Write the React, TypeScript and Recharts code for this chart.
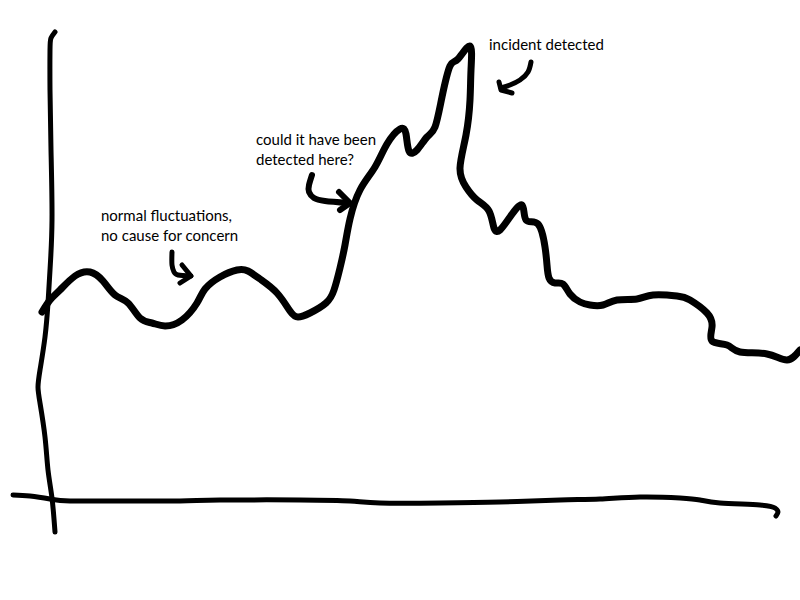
import { LineChart, Line, XAxis, YAxis, ReferenceDot } from 'recharts'

// hand-drawn sketch: x = time, y = level (0 at the bottom of the page, 600 at the top)
const signalTime = [42, 50, 60, 75, 90, 103, 115, 128, 140, 152, 165, 182, 197, 205, 220, 237, 248, 260, 277, 290, 298, 310, 326, 334, 340, 345, 350, 360, 375, 387, 400, 406, 409, 417, 427, 435, 442, 450, 458, 470, 471, 470, 466, 460, 466, 477, 489, 494, 500, 510, 522, 526, 538, 545, 547, 549, 555, 563, 570, 580, 590, 603, 617, 637, 653, 677, 690, 707, 712, 712, 727, 740, 767, 787, 800]
const signalLevel = [288, 300, 310, 324, 328, 319, 305, 297, 282, 277, 274, 280, 297, 311, 323, 330, 329, 321, 307, 289, 283, 287, 297, 310, 332, 355, 381, 410, 433, 456, 471, 466, 449, 450, 463, 473, 503, 534, 541, 554, 530, 500, 465, 432, 413, 400, 389, 372, 370, 383, 395, 380, 376, 353, 335, 322, 317, 316, 306, 298, 295, 295, 300, 301, 305, 304, 300, 287, 273, 259, 255, 248, 246, 240, 250]

const yAxisTime = [55, 51, 50, 50, 51, 52, 50, 48, 45, 40, 38, 40, 45, 48, 52, 55]
const yAxisLevel = [568, 562, 550, 510, 450, 380, 330, 297, 263, 230, 213, 197, 163, 130, 102, 68]

const xAxisTime = [13, 30, 50, 70, 120, 180, 220, 300, 350, 380, 440, 500, 560, 600, 640, 680, 700, 720, 760, 775, 778, 776]
const xAxisLevel = [105, 104, 101, 99, 99, 99, 100, 100, 99, 97, 97, 98, 100, 101, 103, 102, 100, 97, 95, 92, 88, 84]

// annotation arrows
const calmArrowTime = [172, 172, 174, 178, 191]
const calmArrowLevel = [348, 335, 328, 325, 324]
const calmHeadTime = [182, 191, 180]
const calmHeadLevel = [335, 324, 317]

const earlyArrowTime = [312, 309, 309, 314, 325, 348]
const earlyArrowLevel = [425, 415, 408, 402, 399, 397]
const earlyHeadTime = [339, 350, 340]
const earlyHeadLevel = [408, 397, 390]

const incidentArrowTime = [531, 528, 520, 510, 501]
const incidentArrowLevel = [538, 528, 520, 515, 512]
const incidentHeadTime = [499, 501, 512]
const incidentHeadLevel = [518, 510, 507]

const noteTime = [102, 257, 490]
const noteLevel = [378, 454, 549]
const noteText = [
  ['normal fluctuations,', 'no cause for concern'],
  ['could it have been', 'detected here?'],
  ['incident detected'],
]

const toPoints = (t: number[], v: number[]) => t.map((time, i) => ({ time, level: v[i] }))

const strokes = [
  { key: 'signal', data: toPoints(signalTime, signalLevel), width: 7, curve: 'natural' },
  { key: 'yaxis', data: toPoints(yAxisTime, yAxisLevel), width: 5, curve: 'natural' },
  { key: 'xaxis', data: toPoints(xAxisTime, xAxisLevel), width: 5, curve: 'natural' },
  { key: 'calm', data: toPoints(calmArrowTime, calmArrowLevel), width: 5, curve: 'natural' },
  { key: 'calmHead', data: toPoints(calmHeadTime, calmHeadLevel), width: 5, curve: 'linear' },
  { key: 'early', data: toPoints(earlyArrowTime, earlyArrowLevel), width: 6, curve: 'natural' },
  { key: 'earlyHead', data: toPoints(earlyHeadTime, earlyHeadLevel), width: 6, curve: 'linear' },
  { key: 'incident', data: toPoints(incidentArrowTime, incidentArrowLevel), width: 5, curve: 'natural' },
  { key: 'incidentHead', data: toPoints(incidentHeadTime, incidentHeadLevel), width: 5, curve: 'linear' },
]

function Note({ viewBox, lines }: any) {
  if (!viewBox) return null
  return (
    <text x={viewBox.x} y={viewBox.y} fontFamily="Lato, 'Open Sans', sans-serif" fontSize={15} fill="#000">
      {lines.map((l: string, i: number) => (
        <tspan key={i} x={viewBox.x} dy={i === 0 ? 0 : 20}>{l}</tspan>
      ))}
    </text>
  )
}

export default function App() {
  return (
    <div style={{ width: 800, height: 600, background: '#fff' }}>
      <style>{'body{margin:0}'}</style>
      <LineChart width={800} height={600} margin={{ top: 0, right: 0, bottom: 0, left: 0 }}>
        <XAxis type="number" dataKey="time" domain={[0, 800]} hide allowDuplicatedCategory={false} />
        <YAxis type="number" dataKey="level" domain={[0, 600]} hide />
        {strokes.map(s => (
          <Line
            key={s.key}
            data={s.data}
            dataKey="level"
            type={s.curve as any}
            stroke="#000"
            strokeWidth={s.width}
            strokeLinecap="round"
            strokeLinejoin="round"
            dot={false}
            activeDot={false}
            isAnimationActive={false}
          />
        ))}
        {noteText.map((lines, i) => (
          <ReferenceDot
            key={i}
            x={noteTime[i]}
            y={noteLevel[i]}
            r={1}
            fill="none"
            stroke="none"
            label={(props: any) => <Note {...props} lines={lines} />}
          />
        ))}
      </LineChart>
    </div>
  )
}
